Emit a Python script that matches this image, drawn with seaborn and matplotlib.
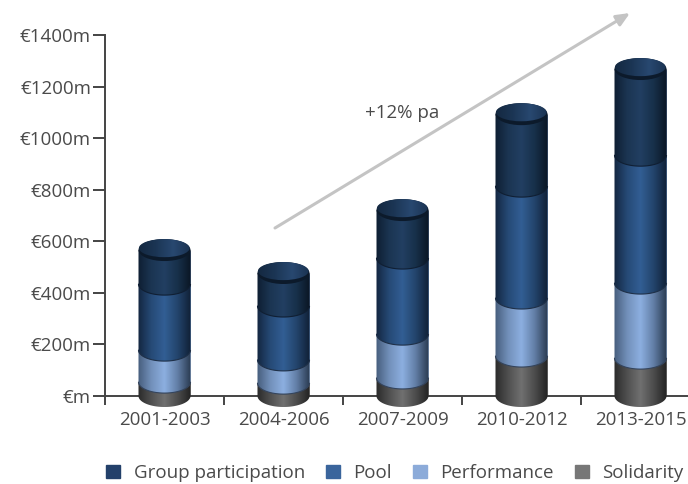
import matplotlib
matplotlib.use('Agg')
import matplotlib.pyplot as plt
from matplotlib.colors import LinearSegmentedColormap
from matplotlib.patches import PathPatch, Ellipse, Patch
from matplotlib.path import Path
import numpy as np
import seaborn as sns

periods = ['2001-2003', '2004-2006', '2007-2009', '2010-2012', '2013-2015']
solidarity = [54, 50, 70, 155, 147]
performance = [124, 90, 170, 225, 291]
pool = [256, 209, 295, 434, 496]
group = [132, 128, 186, 279, 334]
y_ticks = [0, 200, 400, 600, 800, 1000, 1200, 1400]
y_labels = ['€m', '€200m', '€400m', '€600m', '€800m', '€1000m', '€1200m', '€1400m']

series = [
    ('Solidarity', solidarity, '#777777', ['#2a2a2a', '#505050', '#707070', '#4c4c4c', '#222222'], '#333333'),
    ('Performance', performance, '#8cabd9', ['#465d7c', '#7290ba', '#8cafe0', '#627ea6', '#293a50'], '#34445c'),
    ('Pool', pool, '#3a659c', ['#132640', '#264a76', '#325e94', '#23446c', '#102036'], '#1f3048'),
    ('Group participation', group, '#23406a', ['#0e1e32', '#1b3552', '#223f62', '#17304a', '#0a1624'], '#101f33'),
]

sns.set_style('ticks')
plt.rcParams['font.family'] = ['Open Sans', 'DejaVu Sans']
text_col = '#4a4a4a'

fig = plt.figure(figsize=(6.88, 4.84), dpi=100)
# axes box: x 105..700, y 35..396 in picture pixels
ax = fig.add_axes([105 / 688, 1 - 396 / 484, 595 / 688, 361 / 484])

bottom = np.zeros(len(periods))
for name, vals, col, stops, line in series:
    sns.barplot(x=periods, y=vals, bottom=bottom, color=col, saturation=1, width=0.437, ax=ax)
    bottom = bottom + np.array(vals)

ax.set_xlim(-0.5, 4.5)
ax.set_ylim(0, 1400)
ell_h = 1400 / 361 * 11  # half height of the ellipses, data units

z = 3
for (name, vals, col, stops, line), bars in zip(series, ax.containers):
    cmap = LinearSegmentedColormap.from_list(name, stops)
    for bar in bars:
        x0, w = bar.get_x(), bar.get_width()
        y0, y1 = bar.get_y(), bar.get_y() + bar.get_height()
        t = np.linspace(0, np.pi, 60)
        arc_x = x0 + w / 2 + w / 2 * np.cos(t)
        arc_y = y0 - ell_h * np.sin(t)
        verts = [(x0, y1), (x0 + w, y1)] + list(zip(arc_x, arc_y)) + [(x0, y1)]
        body = PathPatch(Path(verts), fc='none', ec='none', transform=ax.transData)
        ax.add_patch(body)
        im = ax.imshow(np.linspace(0, 1, 256).reshape(1, -1), cmap=cmap, aspect='auto',
                       extent=(x0, x0 + w, y0 - ell_h, y1), zorder=z, interpolation='bilinear')
        im.set_clip_box(fig.bbox)
        im.set_clip_path(body)
        if name != 'Solidarity':
            ax.plot(arc_x, arc_y, color=line, lw=0.8, zorder=z + 0.5, clip_on=False)
    z += 1

# lids on the top of each cylinder
lid_cmap = LinearSegmentedColormap.from_list('lid', ['#142840', '#1b3554', '#284870', '#1a3250'])
for bar in ax.containers[-1]:
    cx = bar.get_x() + bar.get_width() / 2
    w = bar.get_width()
    top = bar.get_y() + bar.get_height()
    ax.add_patch(Ellipse((cx, top), w, 2 * ell_h, fc='#0c1a2b', ec='none', zorder=z, clip_on=False))
    lid = Ellipse((cx - 0.002, top + 7.5), w * 0.975, 2 * ell_h - 15, fc='none', ec='none', transform=ax.transData)
    ax.add_patch(lid)
    im = ax.imshow(np.linspace(0, 1, 256).reshape(1, -1), cmap=lid_cmap, aspect='auto',
                   extent=(cx - w / 2, cx + w / 2, top - ell_h, top + ell_h), zorder=z + 1)
    im.set_clip_box(fig.bbox)
    im.set_clip_path(lid)

ax.set_xlim(-0.5, 4.5)
ax.set_ylim(0, 1400)

sns.despine(ax=ax)
for s in ['left', 'bottom']:
    ax.spines[s].set_color('#444444')
    ax.spines[s].set_linewidth(1.4)
    ax.spines[s].set_zorder(2)

ax.set_yticks(y_ticks)
ax.set_yticklabels(y_labels)
ax.tick_params(axis='y', length=9, width=1.4, color='#444444', labelcolor=text_col, labelsize=13.5, pad=1)
ax.set_xticks(range(len(periods)))
ax.set_xticklabels(periods)
ax.set_xticks(np.arange(-0.5, 5), minor=True)
ax.tick_params(axis='x', which='major', length=0, labelcolor=text_col, labelsize=13.5, pad=11)
ax.tick_params(axis='x', which='minor', length=6.5, width=1.4, color='#444444')

# trend arrow and its label
ax.annotate('', xy=(630 / 688, 1 - 13 / 484), xytext=(275 / 688, 1 - 228 / 484),
            xycoords='figure fraction', textcoords='figure fraction',
            arrowprops=dict(arrowstyle='-|>,head_length=0.8,head_width=0.35', color='#c4c4c4', lw=2.2,
                            shrinkA=0, shrinkB=0), annotation_clip=False, zorder=1)
fig.text(402 / 688, 1 - 113 / 484, '+12% pa', ha='center', va='center', color=text_col, fontsize=13.5)

handles = [Patch(color=s[2], label=s[0]) for s in series[::-1]]
fig.legend(handles=handles, ncol=4, frameon=False, loc='center left',
           bbox_to_anchor=(106 / 688, 1 - 473 / 484), fontsize=13.5, labelcolor=text_col,
           handlelength=0.75, handleheight=0.75, handletextpad=0.72, columnspacing=1.12,
           borderpad=0, borderaxespad=0)

fig.savefig('out.png', dpi=100)
